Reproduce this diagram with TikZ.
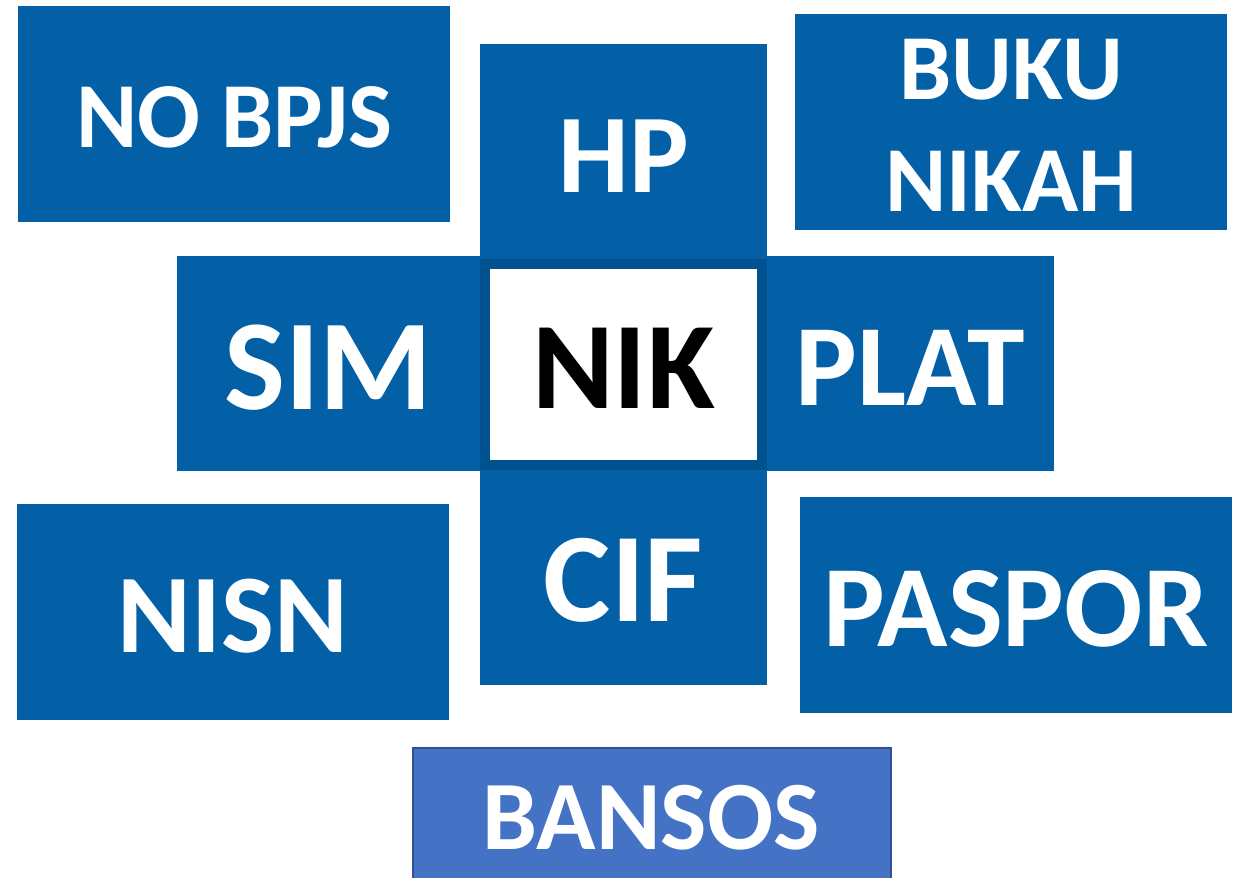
\documentclass[tikz,border=0pt]{standalone}
\usepackage{fontspec}
\setmainfont{Carlito}
\definecolor{mainblue}{RGB}{3,96,166}
\definecolor{nikborder}{RGB}{0,82,143}
\definecolor{bansosblue}{RGB}{68,114,196}
\definecolor{bansosborder}{RGB}{47,82,143}
\begin{document}
\begin{tikzpicture}[x=1pt,y=-1pt,
  box/.style={fill=mainblue, draw=none, inner sep=0pt},
  txt/.style={text=white, inner sep=0pt, align=center},
  fs/.style={font=\fontsize{#1pt}{#1pt}\selectfont\bfseries}]
\useasboundingbox (0,0) rectangle (1235,878);
\node[box, minimum width=432pt, minimum height=216pt] (bpjs) at (234,114) {};
\node[box, minimum width=432pt, minimum height=216pt] (buku) at (1011,122) {};
\node[box, minimum width=287pt, minimum height=216pt] (hp) at (623.5,152) {};
\node[box, minimum width=303pt, minimum height=215pt] (sim) at (328.5,363.5) {};
\node[box, minimum width=287pt, minimum height=215pt] (plat) at (910.5,363.5) {};
\node[box, minimum width=287pt, minimum height=216pt] (cif) at (623.5,577) {};
\node[box, minimum width=432pt, minimum height=216pt] (nisn) at (233,612) {};
\node[box, minimum width=432pt, minimum height=216pt] (paspor) at (1016,605) {};
\node[draw=nikborder, line width=10pt, fill=white, inner sep=0pt, minimum width=277pt, minimum height=201pt] (nik) at (623.5,364.75) {};
\node[fill=bansosblue, draw=bansosborder, line width=1.5pt, inner sep=0pt, minimum width=478pt, minimum height=150pt, anchor=north west] (bansosbox) at (412,747) {};
\node[txt, fs=93] (tbpjs) at ([yshift=-3pt]bpjs) {NO BPJS};
\node[txt, font=\fontsize{93pt}{112pt}\selectfont\bfseries] (tbuku) at ([yshift=-3pt]buku) {BUKU\\NIKAH};
\node[txt, fs=112] (thp) at ([yshift=-4pt]hp) {HP};
\node[txt, fs=129] (tsim) at ([yshift=-4pt]sim) {SIM};
\node[txt, fs=116] (tplat) at ([yshift=-4pt]plat) {PLAT};
\node[txt, fs=127] (tcif) at ([yshift=-3pt]cif) {CIF};
\node[txt, fs=112] (tnisn) at ([yshift=-4pt]nisn) {NISN};
\node[txt, fs=116] (tpaspor) at ([yshift=-4pt]paspor) {PASPOR};
\node[txt, fs=124, text=black] (tnik) at ([yshift=-4pt]nik) {NIK};
\node[txt, fs=98] (tbansos) at (651,818) {BANSOS};
\end{tikzpicture}
\end{document}
